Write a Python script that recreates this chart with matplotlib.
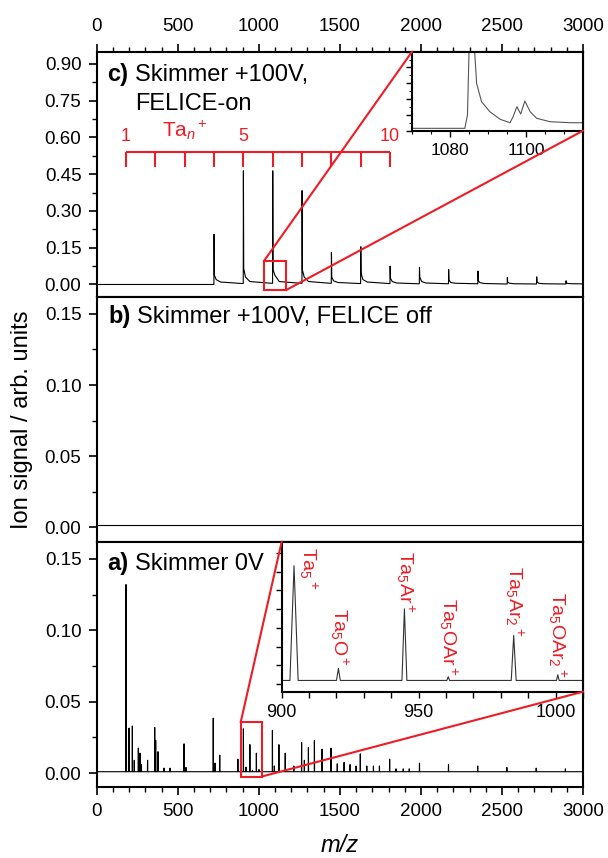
import matplotlib
matplotlib.use('Agg')
import matplotlib.pyplot as plt
from matplotlib.patches import Rectangle, ConnectionPatch
from matplotlib.ticker import MultipleLocator, FormatStrFormatter

plt.rcParams['font.family'] = ['Liberation Sans', 'DejaVu Sans']
plt.rcParams['mathtext.fontset'] = 'custom'
plt.rcParams['mathtext.rm'] = 'Liberation Sans'
plt.rcParams['mathtext.it'] = 'Liberation Sans:italic'
plt.rcParams['mathtext.bf'] = 'Liberation Sans:bold'

RED = '#ee1c25'

# Ta_n+ ruler positions (panel c)
ta_n = [1, 2, 3, 4, 5, 6, 7, 8, 9, 10]
ta_n_mz = [181, 362, 543, 724, 905, 1086, 1267, 1448, 1629, 1810]

# panel c: Skimmer +100V, FELICE on
c_mz = [724, 905, 1086, 1267, 1448, 1629, 1810, 1991, 2171, 2352, 2533, 2714, 2895]
c_height = [0.205, 0.464, 0.464, 0.383, 0.131, 0.154, 0.075, 0.070, 0.061, 0.055, 0.029, 0.031, 0.015]
c_shoulder = [0.038, 0.065, 0.060, 0.059, 0.030, 0.045, 0.025, 0.030, 0.018, 0.015, 0.010, 0.010, 0.006]
c_bump = [0.020, 0.030, 0.038, 0.030, 0.015, 0.020, 0.012, 0.012, 0.008, 0.007, 0.005, 0.005, 0.004]
c_mid = [0.010, 0.012, 0.012, 0.012, 0.008, 0.010, 0.006, 0.006, 0.005, 0.004, 0.003, 0.003, 0.003]
c_end = [0.004, 0.005, 0.005, 0.005, 0.004, 0.004, 0.003, 0.003, 0.003, 0.002, 0.002, 0.002, 0.002]

# inset of panel c (around Ta6+)
inset_c_mz = [1070, 1083.9, 1084.6, 1085.0, 1085.8, 1086.5, 1087.0, 1088.3, 1090.5, 1093.2,
              1095.8, 1096.6, 1097.6, 1098.6, 1099.7, 1101.1, 1102.8, 1106.3, 1111.6, 1115]
inset_c_val = [0.003, 0.003, 0.020, 0.100, 0.464, 0.100, 0.060, 0.0367, 0.024, 0.0144,
               0.0101, 0.0177, 0.0304, 0.0211, 0.0376, 0.024, 0.0157, 0.0114, 0.0101, 0.0101]

# panel b: Skimmer +100V, FELICE off
b_mz = [0, 3000]
b_val = [0.002, 0.002]

# panel a: Skimmer 0V
a_mz = [181, 183, 199, 220, 232, 257, 267, 276, 314, 358, 364, 378, 415, 452, 539, 551,
        719, 730, 759, 871, 905, 921, 945, 961, 985, 1001, 1084, 1096, 1124, 1163, 1216,
        1264, 1281, 1306, 1343, 1390, 1445, 1484, 1526, 1563, 1600, 1626, 1666, 1707,
        1744, 1807, 1846, 1891, 1928, 1991, 2170, 2350, 2530, 2711, 2891]
a_height = [0.132, 0.086, 0.0315, 0.033, 0.009, 0.0175, 0.014, 0.006, 0.009, 0.032, 0.023, 0.015,
            0.0035, 0.0035, 0.0205, 0.004, 0.0385, 0.007, 0.0126, 0.0098, 0.031, 0.0042,
            0.020, 0.002, 0.014, 0.0025, 0.030, 0.005, 0.0199, 0.014, 0.005, 0.0215, 0.009,
            0.018, 0.0227, 0.0168, 0.0175, 0.0065, 0.0075, 0.006, 0.005, 0.0135, 0.005,
            0.005, 0.005, 0.0098, 0.003, 0.003, 0.003, 0.007, 0.006, 0.005, 0.004, 0.0035, 0.003]
a_base = 0.001

# inset of panel a (Ta5 cluster)
inset_a_mz = [904.5, 920.7, 944.8, 960.8, 984.7, 1000.8]
inset_a_height = [0.0316, 0.0042, 0.0201, 0.0020, 0.0130, 0.0025]
inset_a_halfwidth = [1.5, 0.7, 0.9, 0.5, 0.9, 0.5]
inset_a_labels = [r'Ta$_5$$^+$', r'Ta$_5$O$^+$', r'Ta$_5$Ar$^+$', r'Ta$_5$OAr$^+$',
                  r'Ta$_5$Ar$_2$$^+$', r'Ta$_5$OAr$_2$$^+$']
inset_a_label_x = [909.7, 920.9, 945.0, 960.8, 984.9, 1000.6]
inset_a_label_y = [0.0367, 0.0203, 0.0354, 0.0230, 0.0314, 0.0247]


def style_axis(ax, major, minor):
    ax.yaxis.set_major_locator(MultipleLocator(major))
    ax.yaxis.set_minor_locator(MultipleLocator(minor))
    ax.yaxis.set_major_formatter(FormatStrFormatter('%.2f'))
    ax.xaxis.set_major_locator(MultipleLocator(500))
    ax.xaxis.set_minor_locator(MultipleLocator(100))
    ax.set_xlim(0, 3000)
    ax.tick_params(which='major', direction='out', length=6, width=1.2, labelsize=13.5, pad=5)
    ax.tick_params(which='minor', direction='out', length=3.5, width=1.0)
    ax.tick_params(axis='both', which='both', right=False)
    for sp in ax.spines.values():
        sp.set_linewidth(1.5)


def panel_title(ax, tag, text, y, x_tag, x_text):
    ax.text(x_tag, y, tag, transform=ax.transAxes, fontsize=17, fontweight='bold', va='baseline')
    ax.text(x_text, y, text, transform=ax.transAxes, fontsize=17, va='baseline')


fig = plt.figure(figsize=(6.08, 8.58), dpi=100)
gs = fig.add_gridspec(3, 1, left=0.159, right=0.959, top=0.9397, bottom=0.0831, hspace=0)
ax_c = fig.add_subplot(gs[0])
ax_b = fig.add_subplot(gs[1])
ax_a = fig.add_subplot(gs[2])

# --- panel c ---
xs = [0, 720]
ys = [0.0, 0.0]
prev = 0.0
for m, h, s, bp, md, e in zip(c_mz, c_height, c_shoulder, c_bump, c_mid, c_end):
    xs += [m - 1, m, m + 2, m + 13, m + 40, m + 170]
    ys += [prev, h, s, bp, md, e]
    prev = e
xs.append(3000)
ys.append(prev)
ax_c.plot(xs, ys, color='black', lw=0.8)
ax_c.set_ylim(-0.05, 0.95)
style_axis(ax_c, 0.15, 0.075)
ax_c.tick_params(axis='x', which='both', bottom=False, labelbottom=False, top=True, labeltop=True, pad=6)

# Ta_n+ ruler
ax_c.hlines(0.542, ta_n_mz[0], ta_n_mz[-1], color=RED, lw=1.5)
ax_c.vlines(ta_n_mz, 0.481, 0.542, color=RED, lw=1.5)
for n, m in zip(ta_n, ta_n_mz):
    if n in (1, 5, 10):
        ax_c.text(m, 0.602, str(n), color=RED, fontsize=13, ha='center', va='center')
ax_c.text(545, 0.603, r'Ta$_n$$^+$', color=RED, fontsize=15, ha='center', va='baseline')

panel_title(ax_c, 'c)', 'Skimmer +100V,', 0.882, 0.021, 0.079)
ax_c.text(0.079, 0.762, 'FELICE-on', transform=ax_c.transAxes, fontsize=17, va='baseline')

ax_c.add_patch(Rectangle((1032, -0.023), 136, 0.119, fill=False, ec=RED, lw=1.5, zorder=5))

# inset c
in_c = fig.add_axes([412 / 608, 1 - 130.7 / 858, 171 / 608, 79 / 858])
in_c.plot(inset_c_mz, inset_c_val, color='#555555', lw=0.8)
in_c.set_xlim(1070, 1115)
in_c.set_ylim(0, 0.1)
in_c.xaxis.set_major_locator(MultipleLocator(20))
in_c.xaxis.set_minor_locator(MultipleLocator(5))
in_c.yaxis.set_major_locator(MultipleLocator(0.02))
in_c.yaxis.set_minor_locator(MultipleLocator(0.01))
in_c.tick_params(which='major', direction='out', length=4, width=1.0, labelsize=12.5, pad=5,
                 labelleft=False, top=False, right=False)
in_c.tick_params(which='minor', direction='out', length=2.5, width=0.8, top=False, right=False)
for sp in in_c.spines.values():
    sp.set_linewidth(1.5)

for xyA, xyB in [((1032, 0.096), (0, 1)), ((1168, -0.023), (1, 0))]:
    con = ConnectionPatch(xyA=xyA, coordsA=ax_c.transData, xyB=xyB, coordsB=in_c.transAxes,
                          color=RED, lw=1.5, zorder=6)
    fig.add_artist(con)

# --- panel b ---
ax_b.plot(b_mz, b_val, color='black', lw=0.8)
ax_b.set_ylim(-0.01, 0.162)
style_axis(ax_b, 0.05, 0.025)
ax_b.tick_params(axis='x', which='both', bottom=False, labelbottom=False)
panel_title(ax_b, 'b)', 'Skimmer +100V, FELICE off', 0.891, 0.024, 0.082)

# --- panel a ---
xs = [0]
ys = [a_base]
for m, h in zip(a_mz, a_height):
    xs += [m - 1, m, m + 1]
    ys += [a_base, h, a_base]
xs.append(3000)
ys.append(a_base)
ax_a.plot(xs, ys, color='black', lw=0.8)
ax_a.set_ylim(-0.0095, 0.162)
style_axis(ax_a, 0.05, 0.025)
ax_a.tick_params(axis='x', which='major', pad=5.5)
panel_title(ax_a, 'a)', 'Skimmer 0V', 0.884, 0.022, 0.079)

ax_a.add_patch(Rectangle((888, -0.0024), 130, 0.0379, fill=False, ec=RED, lw=1.5, zorder=5))

# inset a
in_a = fig.add_axes([281.7 / 608, 1 - 691.7 / 858, 301.3 / 608, 150 / 858])
xs = [900]
ys = [a_base]
for m, h, w in zip(inset_a_mz, inset_a_height, inset_a_halfwidth):
    xs += [m - w, m, m + w]
    ys += [a_base, h, a_base]
xs.append(1010)
ys.append(a_base)
in_a.plot(xs, ys, color='#333333', lw=0.8)
in_a.set_xlim(900, 1010)
in_a.set_ylim(-0.002, 0.038)
in_a.xaxis.set_major_locator(MultipleLocator(50))
in_a.xaxis.set_minor_locator(MultipleLocator(10))
in_a.yaxis.set_major_locator(MultipleLocator(0.01))
in_a.yaxis.set_minor_locator(MultipleLocator(0.005))
in_a.tick_params(which='major', direction='out', length=4, width=1.0, labelsize=13, pad=5,
                 labelleft=False, top=False, right=False)
in_a.tick_params(which='minor', direction='out', length=4, width=1.0, top=False, right=False)
for sp in in_a.spines.values():
    sp.set_linewidth(1.5)
for lab, lx, ly in zip(inset_a_labels, inset_a_label_x, inset_a_label_y):
    in_a.text(lx, ly, lab, color=RED, fontsize=14, rotation=-90, ha='center', va='top')

for xyA, xyB in [((888, 0.0355), (0, 1)), ((1018, -0.0024), (1, 0))]:
    con = ConnectionPatch(xyA=xyA, coordsA=ax_a.transData, xyB=xyB, coordsB=in_a.transAxes,
                          color=RED, lw=1.5, zorder=6)
    fig.add_artist(con)

# shared axis labels
fig.text(22 / 608, 1 - 420 / 858, 'Ion signal / arb. units', rotation=90, fontsize=17,
         ha='center', va='center')
fig.text(340 / 608, 1 - 846 / 858, 'm/z', fontsize=17, style='italic', ha='center', va='center')

fig.savefig('out.png', dpi=100)
